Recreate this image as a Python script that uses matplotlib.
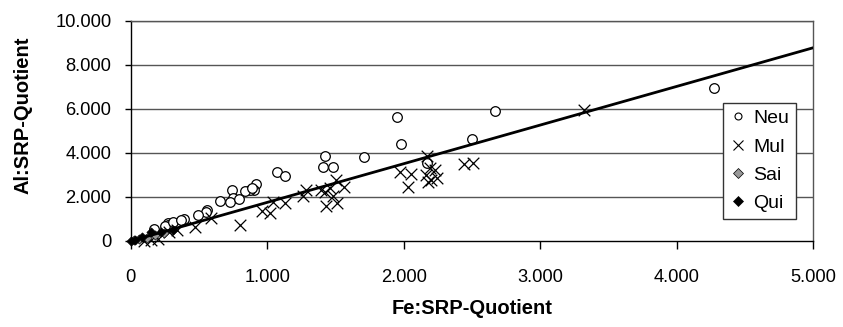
import matplotlib
matplotlib.use("Agg")
import matplotlib.pyplot as plt
from matplotlib.ticker import FuncFormatter
from matplotlib.lines import Line2D

plt.rcParams['font.family'] = ['Liberation Sans', 'DejaVu Sans']

# ---- data ----
neu_x = [4.27, 2.67, 1.95, 1.98, 2.50, 1.71, 1.42, 1.41, 1.48, 1.07, 1.13, 0.92,
         0.90, 0.87, 0.84, 0.89, 0.74, 0.75, 0.73, 0.79, 0.65, 0.56, 0.55, 0.49,
         0.38, 0.39, 0.27, 0.27, 0.17, 0.25, 0.31, 0.37, 2.17]
neu_y = [6.95, 5.93, 5.65, 4.42, 4.63, 3.82, 3.87, 3.36, 3.38, 3.12, 2.97, 2.58,
         2.33, 2.30, 2.27, 2.40, 2.30, 1.95, 1.76, 1.90, 1.84, 1.42, 1.33, 1.20,
         0.93, 1.00, 0.84, 0.74, 0.55, 0.70, 0.85, 0.95, 3.55]

mul_x = [3.32, 2.51, 2.44, 2.17, 2.19, 2.23, 2.16, 2.24, 2.20, 2.18, 2.03, 1.97,
         2.05, 1.50, 1.56, 1.46, 1.39, 1.42, 1.48, 1.43, 1.51, 1.28, 1.26, 1.13,
         1.04, 1.02, 0.96, 0.80, 0.59, 0.47, 0.34, 0.28, 0.20, 0.15, 0.10]
mul_y = [5.95, 3.55, 3.50, 3.88, 3.32, 3.23, 3.00, 2.87, 2.77, 2.70, 2.46, 3.15,
         3.03, 2.77, 2.47, 2.40, 2.32, 2.24, 2.03, 1.60, 1.74, 2.32, 2.05, 1.72,
         1.75, 1.26, 1.38, 0.72, 1.06, 0.62, 0.50, 0.40, 0.08, 0.05, 0.02]

sai_x = [0.02, 0.06, 0.12, 0.18, 0.24]
sai_y = [0.03, 0.08, 0.15, 0.28, 0.35]

qui_x = [0.00, 0.03, 0.08, 0.15, 0.22, 0.31]
qui_y = [0.02, 0.06, 0.18, 0.40, 0.42, 0.50]

trend_slope = 1.757
trend_x = [0.0, 5.0]

x_ticks = [0, 1, 2, 3, 4, 5]
y_ticks = [0, 2, 4, 6, 8, 10]

W, H = 843, 327

# ---- figure ----
fig = plt.figure(figsize=(W / 100, H / 100), dpi=100)
ax = fig.add_axes([0.1552, 0.263, 0.8096, 0.6728])

grid_c = '#555555'
for yv in y_ticks[1:]:
    ax.axhline(yv, color=grid_c, lw=1.0, zorder=1)

ax.scatter(neu_x, neu_y, marker='o', s=48, facecolors='white',
           edgecolors='black', linewidths=0.9, zorder=3, clip_on=False)
ax.scatter(mul_x, mul_y, marker='x', s=70, color='black',
           linewidths=0.9, zorder=4, clip_on=False)
ax.scatter(sai_x, sai_y, marker='D', s=22, facecolors='#999999',
           edgecolors='black', linewidths=0.5, zorder=5, clip_on=False)
ax.scatter(qui_x, qui_y, marker='D', s=22, facecolors='black',
           edgecolors='black', linewidths=0.5, zorder=6, clip_on=False)

ax.plot(trend_x, [trend_slope * v for v in trend_x], color='black', lw=2.0,
        zorder=7, solid_capstyle='butt')

ax.set_xlim(0, 5)
ax.set_ylim(0, 10)
ax.set_xticks(x_ticks)
ax.set_yticks(y_ticks)
fmt = FuncFormatter(lambda v, p: '0' if v == 0 else f'{int(v)}.000')
ax.xaxis.set_major_formatter(fmt)
ax.yaxis.set_major_formatter(fmt)
ax.tick_params(axis='both', direction='out', width=1, labelsize=13.2,
               color='black', labelcolor='black')
ax.tick_params(axis='x', length=6, pad=14)
ax.tick_params(axis='y', length=4, pad=10)

for s in ['left', 'bottom']:
    ax.spines[s].set_color('black')
    ax.spines[s].set_linewidth(1.0)
for s in ['top', 'right']:
    ax.spines[s].set_color(grid_c)
    ax.spines[s].set_linewidth(1.0)

fig.text(472 / W, 1 - 308 / H, 'Fe:SRP-Quotient', fontsize=14.5,
         fontweight='bold', ha='center', va='center')
fig.text(23 / W, 1 - 115 / H, 'Al:SRP-Quotient', fontsize=14.5,
         fontweight='bold', ha='center', va='center', rotation=90)

handles = [
    Line2D([], [], ls='none', marker='o', ms=5, mfc='white', mec='black', mew=0.8),
    Line2D([], [], ls='none', marker='x', ms=7, color='black', mew=0.8),
    Line2D([], [], ls='none', marker='D', ms=5, mfc='#999999', mec='black', mew=0.5),
    Line2D([], [], ls='none', marker='D', ms=5, mfc='black', mec='black', mew=0.5),
]
leg = ax.legend(handles, ['Neu', 'Mul', 'Sai', 'Qui'], loc='lower left',
                bbox_to_anchor=(0.868, 0.10), fontsize=14, frameon=True,
                fancybox=False, edgecolor='#333333', framealpha=1,
                handlelength=0.8, handletextpad=0.4, labelspacing=0.55,
                borderpad=0.35, borderaxespad=0)
leg.get_frame().set_linewidth(1.0)
leg.set_zorder(10)

fig.savefig('out.png', dpi=100)
